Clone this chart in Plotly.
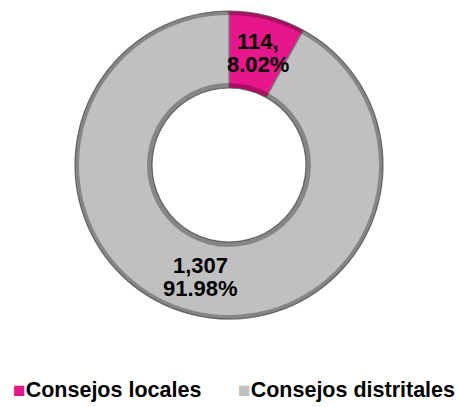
import math
import plotly.graph_objects as go

labels = ["Consejos locales", "Consejos distritales"]
values = [114, 1307]
percents = ["8.02%", "91.98%"]
value_text = ["114,", "1,307"]
colors = ["#E6178A", "#C0C0C0"]

W, H = 457, 407
FONT = "Liberation Sans, Arial, sans-serif"
CX, CY = 229, 165          # pie centre (px)
R_OUT, R_IN = 154, 77      # outer / inner radius (px)


def ring_domain(r):
    return dict(x=[(CX - r) / W, (CX + r) / W], y=[1 - (CY + r) / H, 1 - (CY - r) / H])


fig = go.Figure()
# main donut
fig.add_trace(go.Pie(
    labels=labels, values=values, textinfo="none",
    hole=R_IN / R_OUT, sort=False, direction="clockwise", rotation=0,
    showlegend=False, hoverinfo="label+value+percent",
    marker=dict(colors=colors, line=dict(color="#7A7A7A", width=1.2)),
    domain=ring_domain(R_OUT),
))
# bevel shading: dark outer rim and dark inner rim
fig.add_trace(go.Pie(
    labels=labels, values=values, textinfo="none",
    hole=(R_OUT - 4) / R_OUT, sort=False, direction="clockwise", rotation=0,
    showlegend=False, hoverinfo="skip",
    marker=dict(colors=["rgba(60,0,30,0.35)", "rgba(0,0,0,0.30)"], line=dict(width=0)),
    domain=ring_domain(R_OUT),
))
fig.add_trace(go.Pie(
    labels=labels, values=values, textinfo="none",
    hole=R_IN / (R_IN + 5), sort=False, direction="clockwise", rotation=0,
    showlegend=False, hoverinfo="skip",
    marker=dict(colors=["rgba(60,0,30,0.35)", "rgba(0,0,0,0.30)"], line=dict(width=0)),
    domain=ring_domain(R_IN + 5),
))

# slice labels at the middle of each slice (angle from the data)
total = sum(values)
cum = 0
ann = []
r_lab = (R_OUT + R_IN) / 2
for v, vt, pt in zip(values, value_text, percents):
    mid = (cum + v / 2) / total * 2 * math.pi
    cum += v
    px = CX + r_lab * math.sin(mid)
    py = CY - r_lab * math.cos(mid)
    for txt, dy in ((vt, -11.5), (pt, 11.5)):
        ann.append(dict(
            x=px / W, y=1 - (py + dy) / H, xref="paper", yref="paper",
            xanchor="center", yanchor="middle", showarrow=False,
            text=f"<b>{txt}</b>",
            font=dict(family=FONT, size=22, color="black"),
        ))

# legend drawn as text entries (colored square + bold label)
legend_x = [11 / W, 236 / W]
for lab, col, lx in zip(labels, colors, legend_x):
    ann.append(dict(
        x=lx, y=1 - 390 / H, xref="paper", yref="paper",
        xanchor="left", yanchor="middle", showarrow=False,
        text=f"<span style='color:{col};font-size:21px'>■</span><b>{lab}</b>",
        font=dict(family=FONT, size=21.5, color="black"),
    ))

fig.update_layout(
    width=W, height=H,
    margin=dict(l=0, r=0, t=0, b=0),
    paper_bgcolor="white",
    annotations=ann,
    font=dict(family=FONT),
)
fig.write_html("out.html", config={"displayModeBar": False},
               post_script="document.body.style.margin='0';")
